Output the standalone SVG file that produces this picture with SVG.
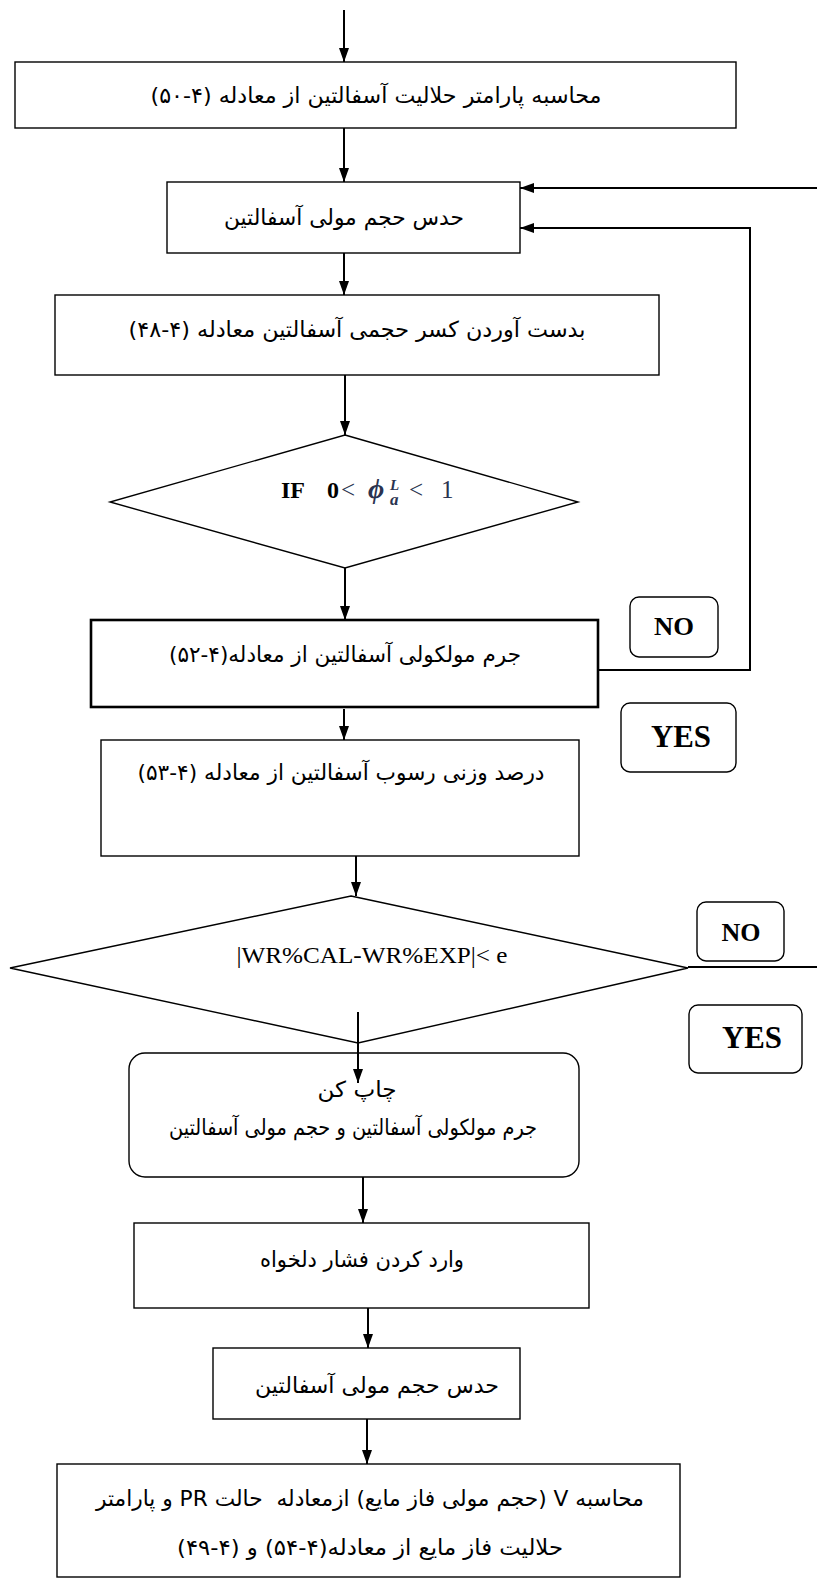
<svg xmlns="http://www.w3.org/2000/svg" width="817" height="1580" viewBox="0 0 817 1580">
<style>
.box{fill:#fff;stroke:#000;stroke-width:1.4}
.tag{fill:#fff;stroke:#000;stroke-width:1.4}
.fa{font-family:"DejaVu Sans",sans-serif;font-size:22px;direction:rtl;text-anchor:middle;fill:#000}
.lat{font-family:"Liberation Serif",serif;fill:#000}
.b{font-weight:bold;text-anchor:middle}
.m{fill:#2a3350}
.con{fill:none;stroke:#000;stroke-width:2}
</style>
<defs>
<marker id="ah" markerUnits="userSpaceOnUse" viewBox="0 0 14 10" markerWidth="14" markerHeight="10" refX="14" refY="5" orient="auto">
<path d="M0,0 L14,5 L0,10 z" fill="#000"/>
</marker>
</defs>
<rect width="817" height="1580" fill="#fff"/>

<g id="n1">
<rect class="box" x="15" y="62" width="721" height="66"/>
<text class="fa" x="376" y="103" textLength="451" lengthAdjust="spacingAndGlyphs">محاسبه پارامتر حلالیت آسفالتین از معادله (۴-۵۰)</text>
</g>

<g id="n2">
<rect class="box" x="167" y="182" width="353" height="71"/>
<text class="fa" x="344" y="225" textLength="240" lengthAdjust="spacingAndGlyphs">حدس حجم مولی آسفالتین</text>
</g>

<g id="n3">
<rect class="box" x="55" y="295" width="604" height="80"/>
<text class="fa" x="357" y="337" textLength="457" lengthAdjust="spacingAndGlyphs">بدست آوردن کسر حجمی آسفالتین معادله (۴-۴۸)</text>
</g>

<g id="d1">
<polygon class="box" points="345,435 578,502 345,568 110,502"/>
<text class="lat" y="498" font-size="24"><tspan x="281" font-weight="bold">IF</tspan><tspan x="327" font-weight="bold">0</tspan></text>
<text class="lat m" y="498" font-size="25"><tspan x="341">&lt;</tspan><tspan x="368" font-size="28" font-style="italic" font-weight="bold">ϕ</tspan><tspan x="409">&lt;</tspan><tspan x="441">1</tspan></text>
<text class="lat m" x="390" y="490" font-size="15" font-style="italic" font-weight="bold">L</text>
<text class="lat m" x="390" y="505" font-size="17" font-style="italic" font-weight="bold">a</text>
</g>

<g id="no1">
<rect class="tag" x="630" y="597" width="88" height="60" rx="9"/>
<text class="lat b" x="674" y="635" font-size="26" textLength="40" lengthAdjust="spacingAndGlyphs">NO</text>
</g>

<g id="n4">
<rect class="box" x="91" y="620" width="507" height="87" style="stroke-width:2.6"/>
<text class="fa" x="345" y="662" textLength="352" lengthAdjust="spacingAndGlyphs">جرم مولکولی آسفالتین از معادله(۴-۵۲)</text>
</g>

<g id="yes1">
<rect class="tag" x="621" y="703" width="115" height="69" rx="9"/>
<text class="lat b" x="681" y="747" font-size="31" textLength="60" lengthAdjust="spacingAndGlyphs">YES</text>
</g>

<g id="n5">
<rect class="box" x="101" y="740" width="478" height="116"/>
<text class="fa" x="341" y="780" textLength="407" lengthAdjust="spacingAndGlyphs">درصد وزنی رسوب آسفالتین از معادله (۴-۵۳)</text>
</g>

<g id="d2">
<polygon class="box" points="351,896 688,968 358,1043 10,968"/>
<text class="lat" x="372" y="963" font-size="24" text-anchor="middle" textLength="271" lengthAdjust="spacingAndGlyphs">|WR%CAL-WR%EXP|&lt; e</text>
</g>

<g id="no2">
<rect class="tag" x="697" y="902" width="87" height="59" rx="9"/>
<text class="lat b" x="741" y="941" font-size="26" textLength="39" lengthAdjust="spacingAndGlyphs">NO</text>
</g>

<g id="yes2">
<rect class="tag" x="689" y="1005" width="113" height="68" rx="9"/>
<text class="lat b" x="752" y="1048" font-size="31" textLength="60" lengthAdjust="spacingAndGlyphs">YES</text>
</g>

<g id="n6">
<rect class="box" x="129" y="1053" width="450" height="124" rx="16"/>
<text class="fa" x="357" y="1097" textLength="79" lengthAdjust="spacingAndGlyphs">چاپ کن</text>
<text class="fa" x="353" y="1135" textLength="368" lengthAdjust="spacingAndGlyphs">جرم مولکولی آسفالتین و حجم مولی آسفالتین</text>
</g>

<g id="n7">
<rect class="box" x="134" y="1223" width="455" height="85"/>
<text class="fa" x="362" y="1267" textLength="204" lengthAdjust="spacingAndGlyphs">وارد کردن فشار دلخواه</text>
</g>

<g id="n8">
<rect class="box" x="213" y="1348" width="307" height="71"/>
<text class="fa" x="377" y="1393" textLength="244" lengthAdjust="spacingAndGlyphs">حدس حجم مولی آسفالتین</text>
</g>

<g id="n9">
<rect class="box" x="57" y="1464" width="623" height="113"/>
<text class="fa" x="370" y="1506" textLength="548" lengthAdjust="spacingAndGlyphs" xml:space="preserve">محاسبه V (حجم مولی فاز مایع) ازمعادله  حالت PR و پارامتر</text>
<text class="fa" x="370" y="1555" textLength="386" lengthAdjust="spacingAndGlyphs">حلالیت فاز مایع از معادله(۴-۵۴) و (۴-۴۹)</text>
</g>

<g id="connectors">
<path class="con" d="M344,10 V62" marker-end="url(#ah)"/>
<path class="con" d="M344,128 V182" marker-end="url(#ah)"/>
<path class="con" d="M344,253 V295" marker-end="url(#ah)"/>
<path class="con" d="M345,375 V435" marker-end="url(#ah)"/>
<path class="con" d="M345,568 V620" marker-end="url(#ah)"/>
<path class="con" d="M344,709 V740" marker-end="url(#ah)"/>
<path class="con" d="M356,856 V896" marker-end="url(#ah)"/>
<path class="con" d="M358,1012 V1083" marker-end="url(#ah)"/>
<path class="con" d="M363,1177 V1223" marker-end="url(#ah)"/>
<path class="con" d="M368,1308 V1348" marker-end="url(#ah)"/>
<path class="con" d="M367,1419 V1464" marker-end="url(#ah)"/>
<path class="con" d="M817,188 H520" marker-end="url(#ah)"/>
<path class="con" d="M598,670 H750 V228 H520" marker-end="url(#ah)"/>
<path class="con" d="M688,967 H817"/>
</g>
</svg>
